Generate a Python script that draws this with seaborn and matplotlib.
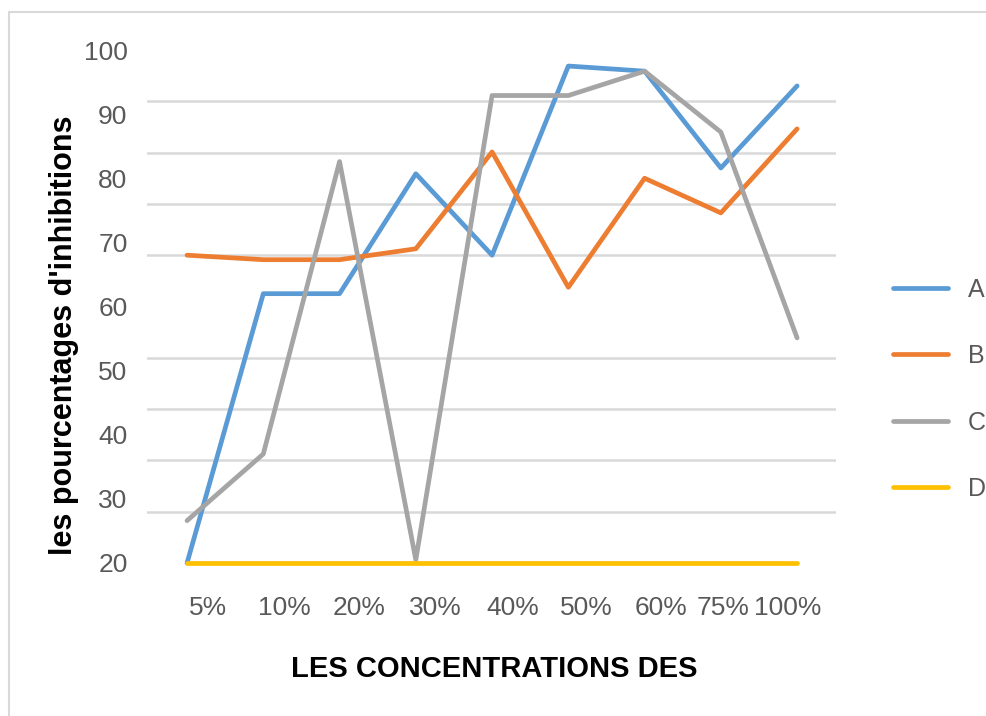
import numpy as np
import pandas as pd
import seaborn as sns
import matplotlib.pyplot as plt
from matplotlib.lines import Line2D

concentrations = ['5%', '10%', '20%', '30%', '40%', '50%', '60%', '75%', '100%']
serie_a = [20, 62, 62, 80.7, 68, 97.5, 96.7, 81.6, 94.4]
serie_b = [68, 67.3, 67.3, 69, 84.1, 63, 80, 74.6, 87.7]
serie_c = [26.6, 37, 82.6, 20.5, 92.9, 92.9, 96.7, 87.2, 55.1]
serie_d = [20, 20, 20, 20, 20, 20, 20, 20, 20]
series_names = ['A', 'B', 'C', 'D']
y_ticks = [20, 30, 40, 50, 60, 70, 80, 90, 100]

colors = ['#5B9BD5', '#ED7D31', '#A5A5A5', '#FFC000']
# where the category labels sit relative to their point (as drawn in the original)
label_shift = [0.27, 0.27, 0.26, 0.25, 0.27, 0.24, 0.22, 0.03, -0.13]

df = pd.DataFrame({
    'conc': concentrations * 4,
    'serie': np.repeat(series_names, len(concentrations)),
    'value': serie_a + serie_b + serie_c + serie_d,
})
df['x'] = df['conc'].map({c: i for i, c in enumerate(concentrations)})

sns.set_theme(style='white')
plt.rcParams['font.family'] = ['Liberation Sans', 'DejaVu Sans']

fig = plt.figure(figsize=(9.86, 7.16), dpi=100)
ax = fig.add_axes([147 / 986, 1 - 563 / 716, 689 / 986, 513 / 716])

sns.lineplot(data=df, x='x', y='value', hue='serie', palette=colors,
             linewidth=3.4, ax=ax, legend=True)
for ln in ax.lines:
    ln.set_clip_on(False)

ax.set_xlim(-0.525, 8.51)
ax.set_ylim(20, 100)

# gridlines: 11 evenly spaced lines
ax.set_yticks(np.linspace(20, 100, 11), minor=True)
ax.set_yticks(y_ticks)
ax.set_yticklabels([str(v) for v in y_ticks])
ax.grid(False)
ax.grid(True, which='minor', axis='y', color='#d9d9d9', linewidth=1.8)
ax.set_axisbelow(True)
ax.tick_params(axis='y', which='both', length=0, pad=14, labelsize=19, labelcolor='#595959')

ax.set_xticks(np.arange(len(concentrations)) + np.array(label_shift))
ax.set_xticklabels(concentrations)
ax.tick_params(axis='x', length=0, pad=24, labelsize=19, labelcolor='#595959')

for s in ax.spines.values():
    s.set_visible(False)

ax.set_xlabel('LES CONCENTRATIONS DES', fontsize=21, fontweight='bold', color='black')
ax.set_ylabel("les pourcentages d'inhibitions", fontsize=22, fontweight='bold', color='black')
ax.xaxis.set_label_coords(0.504, -0.18)
ax.yaxis.set_label_coords(-0.098, 0.444)

handles, labels = ax.get_legend_handles_labels()
leg = ax.legend(handles, labels, loc='upper left', bbox_to_anchor=(870 / 986, 1 - 255 / 716),
                bbox_transform=fig.transFigure, frameon=False, fontsize=18,
                handlelength=2.2, handletextpad=0.8, labelspacing=1.7)
for t in leg.get_texts():
    t.set_color('#595959')

# outer chart frame
fig.add_artist(Line2D([9 / 986, 9 / 986], [0, 1 - 12 / 716], transform=fig.transFigure,
                      color='#d9d9d9', linewidth=1.5))
fig.add_artist(Line2D([9 / 986, 1], [1 - 12 / 716, 1 - 12 / 716], transform=fig.transFigure,
                      color='#d9d9d9', linewidth=1.5))

fig.savefig('out.png', dpi=100, facecolor='white')
